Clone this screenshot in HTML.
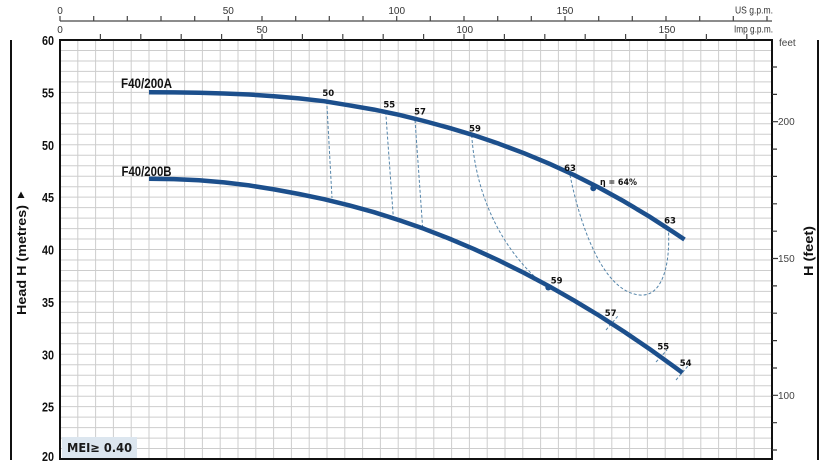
<!DOCTYPE html>
<html><head><meta charset="utf-8"><style>
html,body{margin:0;padding:0;background:#fff;}
svg{display:block;}
</style></head><body>
<svg width="837" height="466" viewBox="0 0 837 466" xmlns="http://www.w3.org/2000/svg" font-family="Liberation Sans, sans-serif">
<rect width="837" height="466" fill="#fff"/>
<!-- grid -->
<path stroke="#cdcdcd" stroke-width="1" fill="none" d="
M77.8,40V459 M95.6,40V459 M113.4,40V459 M131.2,40V459 M149,40V459 M166.8,40V459 M184.6,40V459 M202.4,40V459 M220.2,40V459 M238,40V459
M255.8,40V459 M273.6,40V459 M291.4,40V459 M309.2,40V459 M327,40V459 M344.8,40V459 M362.6,40V459 M380.4,40V459 M398.2,40V459 M416,40V459
M433.8,40V459 M451.6,40V459 M469.4,40V459 M487.2,40V459 M505,40V459 M522.8,40V459 M540.6,40V459 M558.4,40V459 M576.2,40V459 M594,40V459
M611.8,40V459 M629.6,40V459 M647.4,40V459 M665.2,40V459 M683,40V459 M700.8,40V459 M718.6,40V459 M736.4,40V459 M754.2,40V459
M60,50.5H772 M60,61H772 M60,71.4H772 M60,81.9H772 M60,92.4H772 M60,102.9H772 M60,113.3H772 M60,123.8H772 M60,134.3H772 M60,144.8H772
M60,155.2H772 M60,165.7H772 M60,176.2H772 M60,186.7H772 M60,197.1H772 M60,207.6H772 M60,218.1H772 M60,228.6H772 M60,239H772 M60,249.5H772
M60,260H772 M60,270.5H772 M60,280.9H772 M60,291.4H772 M60,301.9H772 M60,312.4H772 M60,322.8H772 M60,333.3H772 M60,343.8H772 M60,354.3H772
M60,364.7H772 M60,375.2H772 M60,385.7H772 M60,396.2H772 M60,406.6H772 M60,417.1H772 M60,427.6H772 M60,438.1H772 M60,448.5H772"/>
<!-- plot border -->
<rect x="60" y="40" width="712" height="419" fill="none" stroke="#111" stroke-width="2"/>
<!-- outer frame lines -->
<line x1="11" y1="40" x2="11" y2="460" stroke="#111" stroke-width="2"/>
<line x1="818" y1="40" x2="818" y2="460" stroke="#111" stroke-width="2"/>

<!-- US gpm axis -->
<line x1="60" y1="21" x2="772" y2="21" stroke="#666" stroke-width="1.5"/>
<path stroke="#444" stroke-width="1.2" d="M60,16V21 M93.7,16V21 M127.3,16V21 M161,16V21 M194.7,16V21 M228.3,16V21 M262,16V21 M295.7,16V21 M329.3,16V21 M363,16V21 M396.7,16V21 M430.3,16V21 M464,16V21 M497.7,16V21 M531.3,16V21 M565,16V21 M598.7,16V21 M632.3,16V21 M666,16V21 M699.7,16V21 M733.3,16V21 M767,16V21"/>
<g font-size="10" fill="#333" text-anchor="middle">
<text x="60" y="14">0</text>
<text x="228.3" y="14">50</text>
<text x="396.7" y="14">100</text>
<text x="565" y="14">150</text>
<text x="60" y="33">0</text>
<text x="262" y="33">50</text>
<text x="464.7" y="33">100</text>
<text x="667" y="33">150</text>
</g>
<text x="735" y="13.5" font-size="10" fill="#333" textLength="38" lengthAdjust="spacingAndGlyphs">US g.p.m.</text>
<text x="734" y="32.5" font-size="10" fill="#333" textLength="39" lengthAdjust="spacingAndGlyphs">Imp g.p.m.</text>
<!-- Imp ticks -->
<path stroke="#444" stroke-width="1.2" d="M100.4,34V40 M140.8,34V40 M181.2,34V40 M221.6,34V40 M262,34V40 M302.4,34V40 M342.8,34V40 M383.2,34V40 M423.6,34V40 M464,34V40 M504.4,34V40 M544.8,34V40 M585.2,34V40 M625.6,34V40 M666,34V40 M706.4,34V40 M746.8,34V40"/>

<!-- feet axis -->
<path stroke="#333" stroke-width="1.2" d="M772,67H777 M772,94.4H777 M772,121.7H778 M772,149.1H777 M772,176.4H777 M772,203.8H777 M772,231.2H777 M772,258.5H778 M772,285.9H777 M772,313.2H777 M772,340.6H777 M772,368H777 M772,395.3H778 M772,422.7H777 M772,450H777"/>
<g font-size="10" fill="#444">
<text x="779" y="46">feet</text>
<text x="778" y="125.2">200</text>
<text x="778" y="262">150</text>
<text x="778" y="398.8">100</text>
</g>

<!-- y labels -->
<g font-size="13" font-weight="bold" fill="#111" text-anchor="end">
<text x="54" y="45" textLength="12" lengthAdjust="spacingAndGlyphs">60</text>
<text x="54" y="97.4" textLength="12" lengthAdjust="spacingAndGlyphs">55</text>
<text x="54" y="149.8" textLength="12" lengthAdjust="spacingAndGlyphs">50</text>
<text x="54" y="202.1" textLength="12" lengthAdjust="spacingAndGlyphs">45</text>
<text x="54" y="254.5" textLength="12" lengthAdjust="spacingAndGlyphs">40</text>
<text x="54" y="306.9" textLength="12" lengthAdjust="spacingAndGlyphs">35</text>
<text x="54" y="359.3" textLength="12" lengthAdjust="spacingAndGlyphs">30</text>
<text x="54" y="411.6" textLength="12" lengthAdjust="spacingAndGlyphs">25</text>
<text x="54" y="461" textLength="12" lengthAdjust="spacingAndGlyphs">20</text>
</g>

<!-- axis titles -->
<text transform="translate(26,260) rotate(-90)" text-anchor="middle" font-size="13" font-weight="bold" fill="#111" textLength="110" lengthAdjust="spacingAndGlyphs">Head H (metres)</text>
<polygon points="17.5,198 24.5,198 21,191.5" fill="#111"/>
<text transform="translate(813,251) rotate(-90)" text-anchor="middle" font-size="13" font-weight="bold" fill="#111" textLength="50" lengthAdjust="spacingAndGlyphs">H (feet)</text>

<!-- MEI box -->
<rect x="62" y="437" width="75" height="21" fill="#dce6ef"/>
<text x="67" y="452" font-family="DejaVu Sans, sans-serif" font-size="12.5" font-weight="bold" fill="#1a1a1a" textLength="65" lengthAdjust="spacingAndGlyphs">MEI≥ 0.40</text>

<!-- series labels -->
<text x="121" y="88" font-size="14" font-weight="bold" fill="#111" textLength="51" lengthAdjust="spacingAndGlyphs">F40/200A</text>
<text x="121.5" y="176" font-size="14" font-weight="bold" fill="#111" textLength="50" lengthAdjust="spacingAndGlyphs">F40/200B</text>

<!-- dashed iso-efficiency lines -->
<g stroke="#5585aa" stroke-width="1" fill="none" stroke-dasharray="3 2">
<path d="M326.7,101 L332,198"/>
<path d="M385.7,111.7 L393.3,217"/>
<path d="M415,120 L422.7,228.3"/>
<path d="M471.7,135 C476,200 505,255 548.3,288.3"/>
<path d="M570,175 C578,215 600,292 640,295 C660,297 671,270 668.3,227"/>
<path d="M606,330 L618,316"/>
<path d="M656,362 L667,350"/>
<path d="M676,380 L688,366"/>
</g>

<!-- curves -->
<g stroke="#1c4f8c" stroke-width="4.5" fill="none" stroke-linejoin="round">
<path d="M149,92.3 L174,92.4 L199,92.8 L224,93.5 L249,94.5 L274,96.2 L299,98.4 L324,101.2 L349,105.3 L374,109.6 L399,114.8 L424,121 L449,127.8 L474,135.3 L499,143.8 L524,153.2 L549,163.6 L574,175 L599,187.6 L624,201.4 L649,216.3 L674,232.5 L684.5,239.5"/>
<path d="M149,178.7 L174,179.1 L199,180.3 L224,182.4 L249,185.4 L274,189.4 L299,194 L324,199.2 L349,205.3 L374,212.2 L399,220.1 L424,228.8 L449,238.5 L474,249.1 L499,260.5 L524,272.9 L549,286.2 L574,300.4 L599,315.5 L624,331.6 L649,348.6 L674,366.6 L682.5,372.8"/>
</g>
<circle cx="593.3" cy="188.3" r="3" fill="#1c4f8c"/>
<circle cx="548.3" cy="287.5" r="3" fill="#1c4f8c"/>

<!-- efficiency labels -->
<g font-family="DejaVu Sans, sans-serif" font-size="8.5" font-weight="bold" fill="#111" text-anchor="middle">
<text x="328.3" y="96">50</text>
<text x="389.3" y="107.3">55</text>
<text x="420" y="114.3">57</text>
<text x="475" y="131.6">59</text>
<text x="570" y="171">63</text>
<text x="670" y="223.3">63</text>
<text x="556.7" y="283.3">59</text>
<text x="610.7" y="316">57</text>
<text x="663.3" y="349.3">55</text>
<text x="685.7" y="366">54</text>
</g>
<text x="600" y="185" font-family="DejaVu Sans, sans-serif" font-size="8.5" font-weight="bold" fill="#111" textLength="37" lengthAdjust="spacingAndGlyphs">η = 64%</text>
</svg>
</body></html>
